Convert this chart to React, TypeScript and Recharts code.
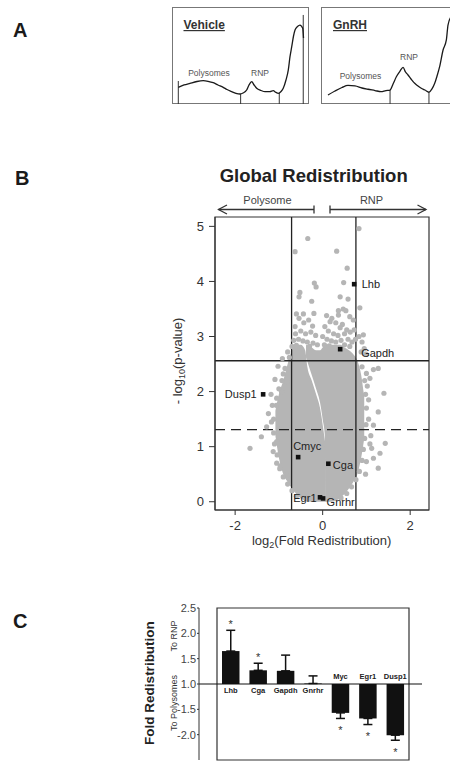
import React from "react";
import {
  Area,
  Bar,
  BarChart,
  ComposedChart,
  ErrorBar,
  LabelList,
  Line,
  LineChart,
  ReferenceArea,
  ReferenceLine,
  Scatter,
  XAxis,
  YAxis,
} from "recharts";

const FONT = '"Liberation Sans", Arial, Helvetica, sans-serif';
const INK = "#222";
const DOT = "#b5b5b5";

// ---- A: gradient profiles (x = % along gradient, y = % of box height)
const vehicleX = [4.6, 8.8, 13.1, 18.2, 22.8, 26.3, 30.1, 33.6, 37.4, 40.1, 43.6, 46.7, 49.6, 51.8, 54.5, 56.2, 58.2, 59.9, 61.8, 65, 67.9, 71.5, 73.9, 75.9, 77.6, 79.6, 81.2, 83.2, 84.9, 86.1, 87.4, 88.7, 89.8, 91.6, 93.4, 95.4, 96];
const vehicleY = [17.2, 19.6, 21.3, 23.2, 24, 23.4, 22, 19.6, 17.2, 14.9, 12.7, 11, 10.3, 11.3, 14.4, 19.6, 23, 19.6, 16.2, 13.9, 12.7, 12.7, 13.7, 11.9, 11, 12.9, 16.2, 24.7, 35.1, 48.5, 59.1, 70.1, 76.3, 79.9, 81.4, 78, 68];
const vehicleCutX = [4.6, 50.1, 78.3, 95.8];
const vehicleCutTop = [23.7, 10.3, 11.5, 91.8];

const gnrhX = [5.1, 10.2, 15.3, 19.7, 24.8, 29.9, 34.3, 39.4, 43.8, 47.4, 50.4, 52.6, 55, 57.7, 59.9, 61.7, 63.5, 65.7, 68.4, 70.8, 73.2, 75.9, 78.8, 81, 83, 84.7, 86.6, 89.1, 91.5, 92.7, 94.9, 97.8];
const gnrhY = [9.3, 13.4, 17, 19.1, 18.6, 16.5, 15.2, 13.9, 12.7, 13.9, 14.4, 20.6, 28.1, 34, 37.8, 33, 29.9, 25.8, 21.3, 18.6, 16.2, 14.4, 12.1, 15.5, 21.3, 28.9, 38.5, 55.7, 66, 81.4, 89.7, 91.8];
const gnrhCutX = [50.4, 78.8];
const gnrhCutTop = [14.4, 12.1];

// ---- B: volcano plot
// dense core of the cloud, split in two lobes by the thin white seam
const leftLobeX = [-1.08, -1.0, -0.9, -0.8, -0.7, -0.6, -0.5, -0.4, -0.35, -0.25, -0.15, -0.06, 0.0, 0.07];
const leftLobeLow = [1.2, 0.8, 0.5, 0.36, 0.24, 0.14, 0.06, 0.02, 0.0, 0.0, 0.0, 0.0, 0.0, 0.0];
const leftLobeHigh = [1.65, 1.95, 2.2, 2.5, 2.75, 2.85, 2.85, 2.75, 2.45, 2.2, 1.95, 1.7, 1.4, 1.0];
const rightLobeX = [-0.38, -0.25, -0.15, -0.06, 0.0, 0.05, 0.07, 0.2, 0.3, 0.4, 0.5, 0.6, 0.7, 0.8, 0.88, 0.95];
const rightLobeLow = [2.62, 2.3, 2.05, 1.8, 1.5, 1.2, 0.0, 0.0, 0.02, 0.07, 0.14, 0.24, 0.36, 0.52, 0.8, 1.15];
const rightLobeHigh = [2.85, 2.8, 2.75, 2.75, 2.8, 2.85, 2.85, 2.85, 2.85, 2.85, 2.8, 2.75, 2.68, 2.55, 2.3, 1.9];

// individual genes outside the dense core: [log2 fold, -log10 p]
const grayPoints: [number, number][] = [
  [0.83, 4.96], [-0.34, 4.78], [-0.63, 4.54], [0.32, 4.55], [0.56, 4.24], [-0.19, 3.97], [-0.15, 3.9],
  [0.48, 3.98], [-0.52, 3.8], [-0.54, 3.72], [-0.25, 3.64], [0.4, 3.72], [0.58, 3.68], [0.85, 3.52],
  [0.47, 3.5], [0.53, 3.47], [0.36, 3.47], [-0.6, 3.41], [-0.44, 3.41], [-0.2, 3.42],
  [-0.63, 3.18], [-0.43, 3.25], [-0.23, 3.19], [-0.54, 3.33], [-0.32, 3.3], [-0.62, 3.05], [-0.5, 3.1],
  [-0.39, 3.05], [-0.27, 3.08], [-0.16, 3.02], [-0.66, 2.93], [-0.55, 2.95], [-0.45, 2.92], [-0.35, 2.9],
  [-0.22, 2.88], [-0.12, 2.85], [-0.7, 2.82], [-0.6, 2.84], [-0.3, 2.82],
  [0.09, 3.38], [0.21, 3.33], [0.17, 3.27], [0.36, 3.39], [0.62, 3.36], [0.7, 3.3], [0.3, 3.25],
  [0.45, 3.22], [0.55, 3.12], [0.4, 3.16], [0.05, 3.18], [0.13, 3.1], [0.25, 3.05], [0.35, 3.02],
  [0.5, 3.05], [0.63, 3.08], [0.72, 3.12], [0.0, 3.0], [0.1, 2.95], [0.2, 2.92], [0.3, 2.9],
  [0.42, 2.93], [0.58, 2.95], [0.67, 2.9], [0.75, 2.95], [0.04, 2.85], [0.15, 2.83], [0.5, 2.85], [0.62, 2.82],
  [0.93, 3.03], [0.83, 3.0], [0.9, 2.9], [0.95, 2.78], [0.99, 2.68], [0.88, 2.72],
  [-0.82, 2.18], [-1.02, 2.46], [-1.09, 2.22], [-1.05, 1.88], [-0.94, 2.0], [-0.9, 2.32], [-1.15, 1.75],
  [-1.24, 1.6], [-1.17, 1.45], [-1.28, 1.36], [-1.4, 1.18], [-1.66, 0.97], [-1.05, 1.09], [-1.13, 0.91],
  [-1.05, 0.7], [-0.82, 0.48], [-1.18, 1.95], [-0.92, 2.6], [-0.8, 2.72], [-1.12, 1.25], [-0.98, 0.6],
  [1.16, 2.4], [1.27, 2.42], [1.0, 2.33], [1.08, 2.24], [1.4, 1.97], [1.27, 1.63], [1.16, 1.39],
  [1.43, 1.06], [1.12, 0.97], [1.31, 0.88], [1.27, 0.61], [1.16, 0.79], [1.0, 0.73], [1.05, 1.5],
  [1.1, 1.2], [1.02, 2.1], [1.05, 1.85], [0.98, 0.5], [1.08, 1.05],
  // ragged rim of the dense core
  [-1.12, 1.5], [-1.06, 1.75], [-1.0, 2.05], [-0.93, 2.2], [-0.86, 2.42], [-0.76, 2.62], [-1.1, 1.05],
  [-1.04, 0.85], [-0.97, 0.65], [-0.9, 0.45], [-0.8, 0.32], [-0.7, 0.2], [-0.6, 0.1],
  [0.9, 2.45], [0.96, 2.2], [0.98, 1.95], [1.0, 1.7], [0.99, 1.4], [0.96, 1.15], [0.93, 0.95],
  [0.9, 0.75], [0.84, 0.55], [0.76, 0.4], [0.66, 0.27], [0.55, 0.15], [0.42, 0.07],
];

const markedGenes = ["Lhb", "Gapdh", "Dusp1", "Cmyc", "Cga", "Egr1", "Gnrhr"];
const markedFold = [0.72, 0.4, -1.36, -0.56, 0.13, -0.06, 0.01];
const markedP = [3.95, 2.77, 1.95, 0.81, 0.69, 0.08, 0.06];
const foldCutoffs = [-0.71, 0.76];
const pCutoffSolid = 2.56;
const pCutoffDashed = 1.31;

// ---- C: qPCR fold redistribution
const qpcrGenes = ["Lhb", "Cga", "Gapdh", "Gnrhr", "Myc", "Egr1", "Dusp1"];
const qpcrFold = [1.65, 1.27, 1.26, 1.01, -1.57, -1.68, -2.01];
const qpcrErr = [0.41, 0.14, 0.31, 0.15, 0.11, 0.12, 0.1];
const qpcrSig = [true, true, false, false, true, true, true];
const qpcrTicks = [-2.5, -2.0, -1.5, 1.0, 1.5, 2.0, 2.5];

// fold axis skips the (-1, 1) gap: +1 and -1 both sit on the baseline
const foldToAxis = (v: number) => (v >= 1 ? v - 1 : v + 1);
const axisToFold = (u: number) => (u >= 0 ? u + 1 : u - 1);

const toPoints = (xs: number[], ys: number[]) => xs.map((x, i) => ({ x, y: ys[i] }));
const toRange = (xs: number[], lo: number[], hi: number[]) =>
  xs.map((x, i) => ({ x, r: [lo[i], hi[i]] }));

const vehicleData = toPoints(vehicleX, vehicleY);
const gnrhData = toPoints(gnrhX, gnrhY);
const leftLobe = toRange(leftLobeX, leftLobeLow, leftLobeHigh);
const rightLobe = toRange(rightLobeX, rightLobeLow, rightLobeHigh);
const grayData = grayPoints.map(([x, y]) => ({ x, y }));
const markedData = markedGenes.map((name, i) => ({ name, x: markedFold[i], y: markedP[i] }));

const qpcrRows = qpcrGenes.map((gene, i) => {
  const u = foldToAxis(qpcrFold[i]);
  return { gene, u, err: u >= 0 ? [0, qpcrErr[i]] : [qpcrErr[i], 0], sig: qpcrSig[i] };
});

const geneLabelAt: Record<string, [number, number, "start" | "end"]> = {
  Lhb: [7.5, 4, "start"],
  Gapdh: [21, 7.5, "start"],
  Dusp1: [-6.5, 4, "end"],
  Cmyc: [-5, -7, "start"],
  Cga: [4.5, 5, "start"],
  Egr1: [-3.5, 5, "end"],
  Gnrhr: [3.5, 8, "start"],
};

function Profile({ data, cutX, cutTop, left }: { data: { x: number; y: number }[]; cutX: number[]; cutTop: number[]; left: number }) {
  return (
    <div style={{ position: "absolute", left, top: 7, width: 137, height: 97 }}>
      <div style={{ position: "absolute", inset: 0, border: "1px solid #777", boxSizing: "border-box" }} />
      <LineChart width={137} height={97} data={data} margin={{ top: 0, right: 0, bottom: 0, left: 0 }}>
        <XAxis type="number" dataKey="x" domain={[0, 100]} hide />
        <YAxis type="number" domain={[0, 100]} hide />
        {cutX.map((c, i) => (
          <ReferenceLine key={c} segment={[{ x: c, y: 0 }, { x: c, y: cutTop[i] }]} stroke="#333" strokeWidth={1} />
        ))}
        <Line type="monotone" dataKey="y" stroke="#1a1a1a" strokeWidth={1.3} dot={false} isAnimationActive={false} />
      </LineChart>
    </div>
  );
}

const grayDot = (p: any) => <circle cx={p.cx} cy={p.cy} r={2.6} fill={DOT} />;

const geneMark = (p: any) => {
  const name = p.payload?.name as string;
  const [dx, dy, anchor] = geneLabelAt[name] ?? [6, 4, "start"];
  return (
    <g>
      <rect x={p.cx - 2.3} y={p.cy - 2.3} width={4.6} height={4.6} fill="#111" />
      <text x={p.cx + dx} y={p.cy + dy} textAnchor={anchor} fontSize={11} fill={INK} fontFamily={FONT}>
        {name}
      </text>
    </g>
  );
};

const qpcrLabel = (p: any) => {
  const vb = p.viewBox ?? p;
  const x = vb.x ?? p.x;
  const y = vb.y ?? p.y;
  const w = vb.width ?? p.width;
  const h = vb.height ?? p.height;
  const row = qpcrRows.find((r) => r.gene === p.value) ?? qpcrRows[p.index];
  if (!row) return null;
  const cx = x + w / 2;
  const top = Math.min(y, y + h);
  const bot = Math.max(y, y + h);
  const up = row.u >= 0;
  const base = up ? bot : top;
  const tip = up ? top : bot;
  const ppu = (bot - top) / Math.abs(row.u);
  const errPx = (up ? row.err[1] : row.err[0]) * ppu;
  const starCenter = up ? tip - errPx - 9 : tip + errPx + 9;
  return (
    <g fontFamily={FONT}>
      <text x={cx} y={up ? base + 8.7 : base - 4.7} textAnchor="middle" fontSize={7.5} fontWeight="bold" fill={INK}>
        {row.gene}
      </text>
      {row.sig && (
        <text x={cx} y={starCenter + 6.3} textAnchor="middle" fontSize={11} fill="#333">
          *
        </text>
      )}
    </g>
  );
};

export default function App() {
  return (
    <div
      style={{
        position: "absolute",
        left: 0,
        top: 0,
        width: 450,
        height: 764,
        overflow: "hidden",
        background: "#fff",
        fontFamily: FONT,
      }}
    >
      <Profile data={vehicleData} cutX={vehicleCutX} cutTop={vehicleCutTop} left={172} />
      <Profile data={gnrhData} cutX={gnrhCutX} cutTop={gnrhCutTop} left={321} />

      <div style={{ position: "absolute", left: 150, top: 200 }}>
        <ComposedChart width={290} height={355} margin={{ top: 17, right: 11, bottom: 15, left: 0 }}>
          <XAxis
            type="number"
            dataKey="x"
            domain={[-2.46, 2.43]}
            ticks={[-2, 0, 2]}
            allowDataOverflow
            height={30}
            tickSize={5}
            tickMargin={6}
            stroke="#333"
            tick={{ fontSize: 13, fill: "#333", fontFamily: FONT }}
          />
          <YAxis
            type="number"
            dataKey="y"
            domain={[-0.15, 5.17]}
            ticks={[0, 1, 2, 3, 4, 5]}
            allowDataOverflow
            width={65}
            tickSize={6}
            tickMargin={5}
            stroke="#333"
            tick={{ fontSize: 13, fill: "#333", fontFamily: FONT }}
          />
          <Area data={leftLobe} dataKey="r" type="monotone" fill={DOT} fillOpacity={1} stroke="none" isAnimationActive={false} />
          <Area data={rightLobe} dataKey="r" type="monotone" fill={DOT} fillOpacity={1} stroke="none" isAnimationActive={false} />
          <Scatter data={grayData} shape={grayDot} isAnimationActive={false} />
          {foldCutoffs.map((c) => (
            <ReferenceLine key={c} x={c} stroke={INK} strokeWidth={1.3} />
          ))}
          <ReferenceLine y={pCutoffSolid} stroke={INK} strokeWidth={1.3} />
          <ReferenceLine y={pCutoffDashed} stroke={INK} strokeWidth={1.3} strokeDasharray="10 6" />
          <Scatter data={markedData} shape={geneMark} isAnimationActive={false} />
          <ReferenceArea y1={-0.15} y2={5.17} fill="none" stroke="#333" strokeWidth={1.2} ifOverflow="visible" />
        </ComposedChart>
      </div>

      <div style={{ position: "absolute", left: 160, top: 598 }}>
        <BarChart width={270} height={166} data={qpcrRows} margin={{ top: 10, right: 8, bottom: 4, left: 0 }}>
          <XAxis dataKey="gene" hide padding={{ left: 18, right: 13 }} />
          <YAxis
            type="number"
            domain={[-1.5, 1.5]}
            ticks={qpcrTicks.map(foldToAxis)}
            tickFormatter={(u: number) => axisToFold(u).toFixed(1)}
            width={39}
            tickSize={2}
            tickMargin={1}
            stroke="#333"
            tick={{ fontSize: 11, fill: "#444", fontFamily: FONT }}
          />
          <ReferenceLine y={0} stroke="#111" strokeWidth={1.2} />
          <Bar dataKey="u" fill="#111" barSize={17.5} isAnimationActive={false}>
            <ErrorBar dataKey="err" width={4.5} stroke="#111" strokeWidth={1.5} direction="y" />
            <LabelList dataKey="gene" content={qpcrLabel} />
          </Bar>
          <ReferenceArea y1={-1.5} y2={1.5} fill="none" stroke="#333" strokeWidth={1.2} ifOverflow="visible" />
        </BarChart>
      </div>

      <svg
        width={450}
        height={764}
        style={{ position: "absolute", left: 0, top: 0, pointerEvents: "none" }}
        fontFamily={FONT}
      >
        <g fontSize={20} fontWeight="bold" fill="#1a1a1a">
          <text x={13} y={37}>A</text>
          <text x={15} y={185}>B</text>
          <text x={13} y={628}>C</text>
        </g>

        <g fontSize={12} fontWeight="bold" fill="#333" textDecoration="underline">
          <text x={183.5} y={29}>Vehicle</text>
          <text x={333} y={29}>GnRH</text>
        </g>
        <g fontSize={8.5} fill="#555" textAnchor="middle">
          <text x={209} y={75.5}>Polysomes</text>
          <text x={260} y={75.5}>RNP</text>
          <text x={360.5} y={79}>Polysomes</text>
          <text x={409} y={60}>RNP</text>
        </g>

        <text x={313.7} y={182} fontSize={18.5} fontWeight="bold" textAnchor="middle" fill="#222">
          Global Redistribution
        </text>
        <g fontSize={11} fill="#444" textAnchor="middle">
          <text x={267.5} y={204}>Polysome</text>
          <text x={371.5} y={204}>RNP</text>
        </g>
        <g stroke="#333" strokeWidth={1.3} fill="none">
          <line x1={218.5} y1={209.5} x2={314} y2={209.5} />
          <polyline points="227,205 218.5,209.5 227,214" />
          <line x1={314} y1={205.5} x2={314} y2={213.5} />
          <line x1={330} y1={209.5} x2={426} y2={209.5} />
          <polyline points="417.5,205 426,209.5 417.5,214" />
          <line x1={330} y1={205.5} x2={330} y2={213.5} />
        </g>

        <text transform="translate(181.5 361) rotate(-90)" textAnchor="middle" fontSize={13} fill="#333">
          - log<tspan fontSize={9} dy={3}>10</tspan>
          <tspan dy={-3}>(p-value)</tspan>
        </text>
        <text x={321.7} y={545} textAnchor="middle" fontSize={13} fill="#333">
          log<tspan fontSize={9} dy={3}>2</tspan>
          <tspan dy={-3}>(Fold Redistribution)</tspan>
        </text>

        <text transform="translate(154 683) rotate(-90)" textAnchor="middle" fontSize={13.5} fontWeight="bold" fill="#222">
          Fold Redistribution
        </text>
        <g fontSize={9} fill="#333" textAnchor="middle">
          <text transform="translate(176.5 636) rotate(-90)">To RNP</text>
          <text transform="translate(176.5 703) rotate(-90)">To Polysomes</text>
        </g>
      </svg>
    </div>
  );
}
